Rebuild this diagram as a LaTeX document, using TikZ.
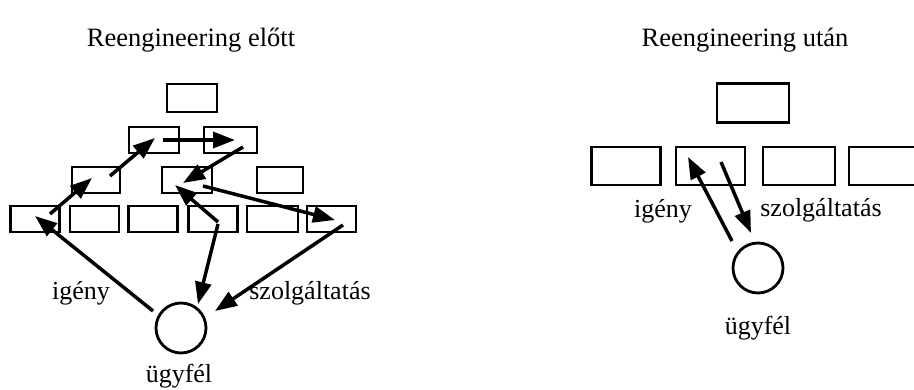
\documentclass[tikz,border=0pt]{standalone}
\usepackage{fontspec}
\setmainfont{Liberation Serif}
\usetikzlibrary{arrows.meta}
\begin{document}
\begin{tikzpicture}[x=1pt,y=-1pt,
  box/.style={draw,line width=2.8pt,minimum width=#1,minimum height=26pt,inner sep=0pt},
  box/.default=49pt,
  cust/.style={draw,circle,line width=2.8pt,minimum size=50pt,inner sep=0pt},
  flow/.style={line width=3.5pt,-{Triangle[length=22pt,width=16pt]}},
  lbl/.style={font=\fontsize{26}{30}\selectfont,anchor=base,inner sep=0pt},
  ttl/.style={font=\fontsize{26.5}{30}\selectfont,anchor=base,inner sep=0pt}]
\useasboundingbox (0,0) rectangle (914,390);
% titles
\node[ttl] (t1) at (191,47) {Reengineering előtt};
\node[ttl] (t2) at (745,47) {Reengineering után};
% ---- left: hierarchy
\node[box=50pt,minimum height=28pt] (top) at (192,98) {};
\node[box=50pt] (a) at (154,140) {};
\node[box=53pt] (b) at (230.5,140) {};
\node[box=48pt] (c) at (96,180) {};
\node[box=50pt] (d) at (187,180) {};
\node[box=46pt] (e) at (280,180) {};
\node[box] (r1) at (35,219) {};
\node[box] (r2) at (94.5,219) {};
\node[box] (r3) at (153,219) {};
\node[box] (r4) at (213,219) {};
\node[box=51pt] (r5) at (272.5,219) {};
\node[box] (r6) at (331.5,219) {};
\node[cust] (k1) at (181,328) {};
\node[lbl] (ig1) at (81,300) {igény};
\node[lbl] (sz1) at (310,300) {szolgáltatás};
\node[lbl] (u1) at (179,382) {ügyfél};
% endpoints
\coordinate (p1s) at (50,214);  \coordinate (p1e) at (92,178);
\coordinate (p2s) at (110,176); \coordinate (p2e) at (155,138);
\coordinate (p3s) at (163,140); \coordinate (p3e) at (235,140);
\coordinate (p4s) at (243,147); \coordinate (p4e) at (183,183);
\coordinate (p5s) at (203,186); \coordinate (p5e) at (335,220);
\coordinate (p6s) at (218,222); \coordinate (p6e) at (175,185);
\coordinate (p7s) at (153,311); \coordinate (p7e) at (35,216);
\coordinate (p8s) at (218,224); \coordinate (p8e) at (198,304);
\coordinate (p9s) at (343,225); \coordinate (p9e) at (215,311);
\draw[flow] (p1s) -- (p1e);
\draw[flow] (p2s) -- (p2e);
\draw[flow] (p3s) -- (p3e);
\draw[flow] (p4s) -- (p4e);
\draw[flow] (p5s) -- (p5e);
\draw[flow] (p6s) -- (p6e);
\draw[flow] (p7s) -- (p7e);
\draw[flow] (p8s) -- (p8e);
\draw[flow] (p9s) -- (p9e);
% ---- right
\node[box=72pt,minimum height=39pt] (rtop) at (753,103) {};
\node[box=69pt,minimum height=38pt] (s1) at (626,166) {};
\node[box=69pt,minimum height=38pt] (s2) at (710.5,166) {};
\node[box=72pt,minimum height=38pt] (s3) at (799,166) {};
\node[box=72pt,minimum height=38pt] (s4) at (885,166) {};
\node[cust] (k2) at (758,268) {};
\node[lbl] (ig2) at (663,218) {igény};
\node[lbl] (sz2) at (821,217) {szolgáltatás};
\node[lbl] (u2) at (758,335) {ügyfél};
\coordinate (q1s) at (732,241); \coordinate (q1e) at (688,157);
\coordinate (q2s) at (721,162); \coordinate (q2e) at (751,233);
\draw[flow] (q1s) -- (q1e);
\draw[flow] (q2s) -- (q2e);
\end{tikzpicture}
\end{document}
